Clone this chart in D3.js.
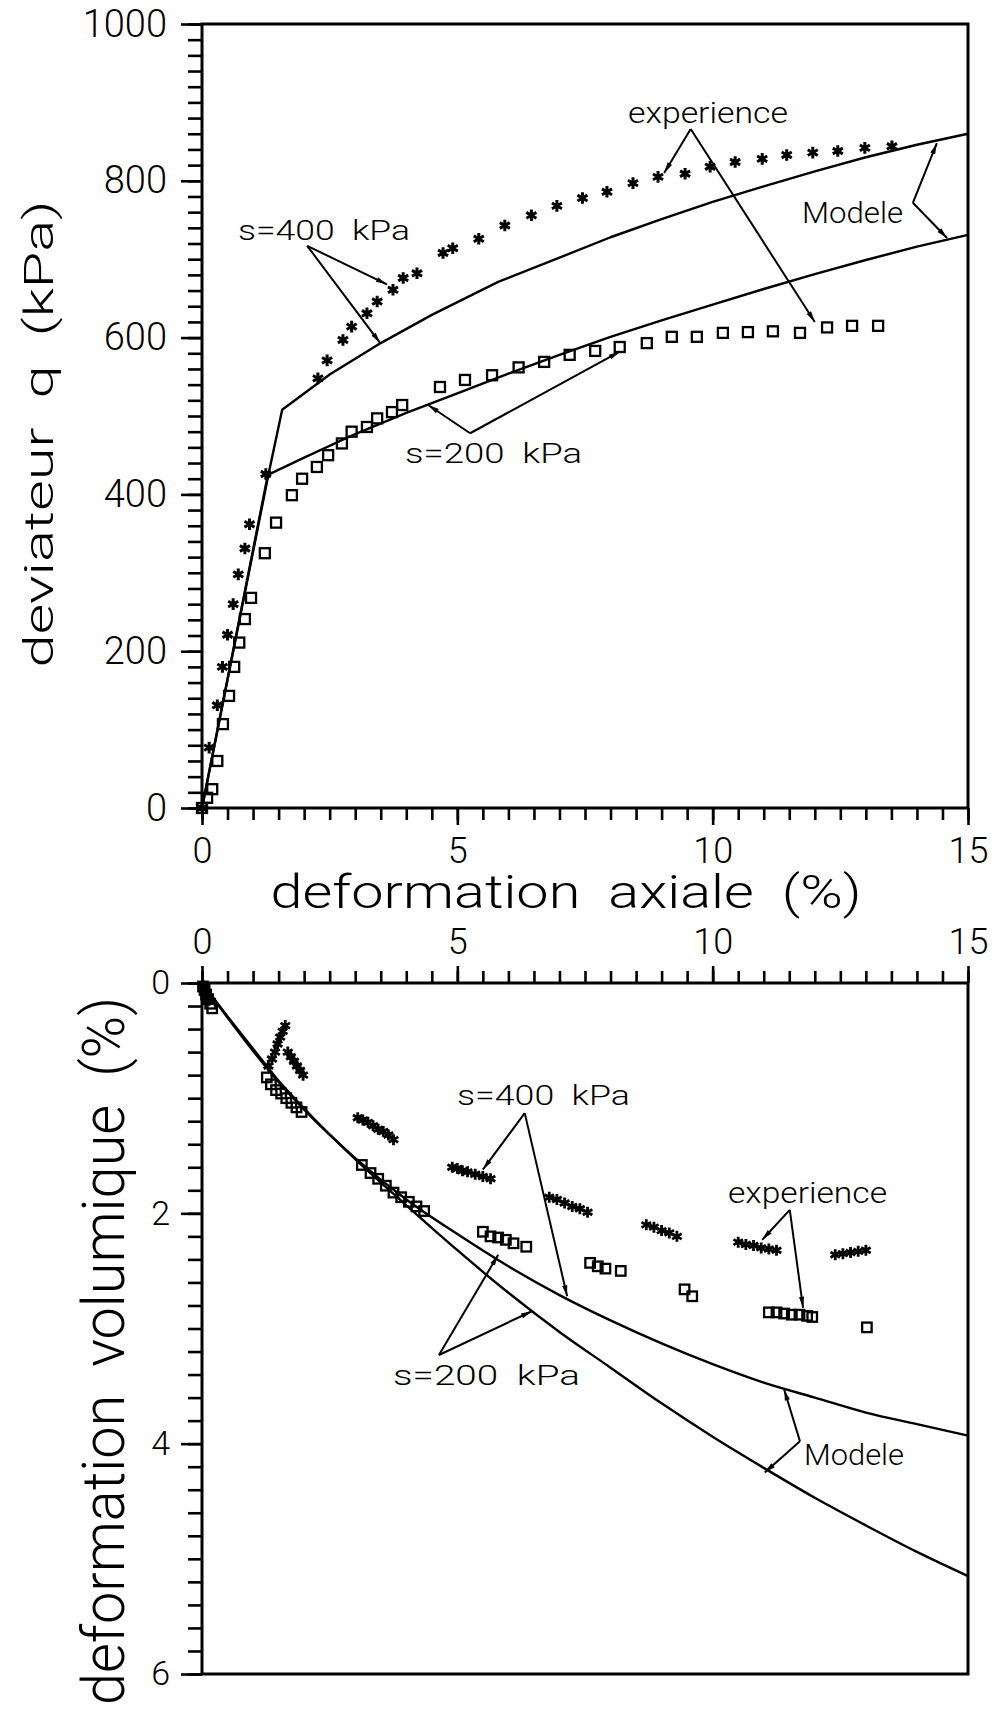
<!DOCTYPE html>
<html><head><meta charset="utf-8">
<script src="https://cdn.jsdelivr.net/npm/d3@7"></script>
<style>body{margin:0;background:#fff}svg{display:block}</style>
</head><body>
<svg id="c" width="997" height="1709"></svg>
<script>
// ---------------- DATA ----------------
const qTicks = [0, 200, 400, 600, 800, 1000];
const epsTicks = [0, 5, 10, 15];
const evTicks = [0, 2, 4, 6];

// Top: deviator q (kPa) vs axial strain (%)
const qModel400 = [[0,0],[1.3,425],[1.57,508],[2.5,553],[3.5,593],[4.5,629],[5.8,671],[7,702],[8,728],[9,751],[10,773],[11,793],[12,812],[13,830],[14,846],[15,860]];
const qModel200 = [[0,0],[1.29,425],[2,447],[3,477],[4,504],[5,529],[6,554],[7,578],[8,601],[9,622],[10,642],[11,662],[12,681],[13,699],[14,716],[15,731]];
const qExp400 = [[0,0],[0.14,77],[0.3,131],[0.4,180],[0.5,221],[0.61,260],[0.71,298],[0.84,331],[0.93,362],[1.25,426],[2.27,548],[2.45,571],[2.76,597],[2.93,614],[3.23,631],[3.43,646],[3.74,661],[3.94,676],[4.21,682],[4.72,708],[4.91,714],[5.42,726],[5.93,743],[6.45,756],[6.95,768],[7.45,778],[7.93,786],[8.44,797],[8.93,805],[9.46,809],[9.95,818],[10.44,824],[10.97,828],[11.45,833],[11.96,836],[12.45,838],[12.98,842],[13.51,844]];
const qExp200 = [[0,0],[0.1,13],[0.2,24],[0.3,60],[0.41,107],[0.53,143],[0.63,180],[0.73,211],[0.84,241],[0.96,268],[1.23,325],[1.45,364],[1.76,399],[1.96,420],[2.25,435],[2.47,450],[2.74,465],[2.93,480],[3.23,486],[3.43,497],[3.72,505],[3.92,514],[4.66,537],[5.15,546],[5.68,552],[6.2,562],[6.7,569],[7.2,578],[7.7,583],[8.18,588],[8.71,593],[9.2,601],[9.69,601],[10.2,606],[10.69,607],[11.18,608],[11.71,606],[12.24,613],[12.73,615],[13.24,615]];

// Bottom: volumetric strain (%) vs axial strain (%)
const vModel400 = [[0,0],[0.5,0.3],[1,0.59],[1.5,0.86],[2,1.1],[3,1.52],[4,1.88],[5,2.18],[6,2.46],[7,2.71],[8,2.93],[9,3.13],[10,3.31],[11,3.47],[12,3.6],[13,3.73],[14,3.83],[15,3.93]];
const vModel200 = [[0,0],[0.5,0.29],[1,0.57],[1.5,0.85],[2,1.09],[3,1.53],[4,1.93],[5,2.32],[6,2.69],[7,3.03],[8,3.34],[9,3.65],[10,3.94],[11,4.21],[12,4.47],[13,4.71],[14,4.94],[15,5.15]];
const vExp400 = [[0.02,0.02],[0.05,0.05],[0.08,0.09],[0.11,0.12],[0.14,0.15],
  [1.3,0.72],[1.37,0.66],[1.43,0.6],[1.48,0.53],[1.53,0.47],[1.58,0.42],[1.63,0.37],
  [1.68,0.6],[1.74,0.64],[1.8,0.68],[1.86,0.72],[1.92,0.76],[1.98,0.8],
  [3.05,1.17],[3.15,1.19],[3.25,1.21],[3.35,1.24],[3.45,1.27],[3.55,1.29],[3.65,1.32],[3.75,1.36],
  [4.9,1.6],[5.0,1.61],[5.1,1.63],[5.2,1.64],[5.35,1.66],[5.5,1.68],[5.65,1.7],
  [6.8,1.86],[6.95,1.88],[7.1,1.91],[7.25,1.94],[7.4,1.96],[7.55,1.99],
  [8.7,2.1],[8.85,2.12],[9.0,2.15],[9.15,2.17],[9.3,2.2],
  [10.5,2.25],[10.65,2.27],[10.8,2.28],[10.95,2.3],[11.1,2.31],[11.25,2.32],
  [12.4,2.36],[12.55,2.35],[12.7,2.34],[12.85,2.33],[13.0,2.32]];
const vExp200 = [[0.02,0.03],[0.05,0.06],[0.08,0.1],[0.12,0.14],[0.16,0.18],[0.2,0.22],
  [1.27,0.82],[1.35,0.88],[1.45,0.93],[1.55,0.96],[1.65,1.0],[1.75,1.04],[1.85,1.08],[1.95,1.12],
  [3.13,1.58],[3.3,1.65],[3.45,1.7],[3.6,1.76],[3.75,1.82],[3.9,1.86],[4.05,1.9],[4.2,1.94],[4.35,1.98],
  [5.5,2.16],[5.65,2.2],[5.8,2.21],[5.95,2.23],[6.1,2.26],[6.35,2.29],
  [7.6,2.43],[7.75,2.46],[7.9,2.48],[8.2,2.5],
  [9.45,2.66],[9.6,2.72],
  [11.1,2.86],[11.25,2.86],[11.4,2.87],[11.55,2.88],[11.7,2.88],[11.85,2.89],[11.95,2.9],
  [13.02,2.99]];

// ---------------- DRAWING ----------------
const FONT = "Roboto, 'Liberation Sans', Arial, Helvetica, sans-serif";
const FW = 300;
const svg = d3.select("#c");
svg.append("rect").attr("width",997).attr("height",1709).attr("fill","#fff");

const x = d3.scaleLinear().domain([0,15]).range([202,968]);
const yq = d3.scaleLinear().domain([0,1000]).range([808,24]);
const yv = d3.scaleLinear().domain([0,6]).range([983,1674]);

const defs = svg.append("defs");
defs.append("marker").attr("id","ah").attr("viewBox","-12 -4 13 8")
  .attr("refX",0).attr("refY",0).attr("markerWidth",13).attr("markerHeight",8)
  .attr("markerUnits","userSpaceOnUse").attr("orient","auto")
  .append("path").attr("d","M-11,-2.6 L0,0 L-11,2.6 Z").attr("fill","#000");

function styleAxis(g, fs){
  g.select(".domain").remove();
  g.selectAll(".tick line").attr("stroke","#000").attr("stroke-width",2.6);
  g.selectAll(".tick text").attr("font-family",FONT).attr("font-weight",FW)
    .attr("font-size",fs).attr("fill","#000");
}

// ---- Top chart axes ----
svg.append("g").attr("transform","translate(202,0)")
  .call(d3.axisLeft(yq).tickValues(d3.range(0,1001,20)).tickSize(14).tickFormat(""))
  .call(g=>styleAxis(g,36));
svg.append("g").attr("transform","translate(202,0)")
  .call(d3.axisLeft(yq).tickValues(qTicks).tickSize(21).tickPadding(14).tickFormat(d3.format("d")))
  .call(g=>styleAxis(g,38));
svg.append("g").attr("transform","translate(0,808)")
  .call(d3.axisBottom(x).tickValues(d3.range(0,15.01,0.5)).tickSize(12).tickFormat(""))
  .call(g=>styleAxis(g,35));
svg.append("g").attr("transform","translate(0,808)")
  .call(d3.axisBottom(x).tickValues(epsTicks).tickSize(17).tickPadding(12).tickFormat(d3.format("d")))
  .call(g=>styleAxis(g,36));
svg.append("rect").attr("x",x(0)).attr("y",yq(1000)).attr("width",x(15)-x(0)).attr("height",yq(0)-yq(1000))
  .attr("fill","none").attr("stroke","#000").attr("stroke-width",3);

// ---- Bottom chart axes ----
svg.append("g").attr("transform","translate(0,983)")
  .call(d3.axisTop(x).tickValues(d3.range(0,15.01,0.5)).tickSize(12).tickFormat(""))
  .call(g=>styleAxis(g,35));
svg.append("g").attr("transform","translate(0,983)")
  .call(d3.axisTop(x).tickValues(epsTicks).tickSize(17).tickPadding(12).tickFormat(d3.format("d")))
  .call(g=>styleAxis(g,36));
svg.append("g").attr("transform","translate(202,0)")
  .call(d3.axisLeft(yv).tickValues(d3.range(0,6.01,0.2)).tickSize(14).tickFormat(""))
  .call(g=>styleAxis(g,32));
svg.append("g").attr("transform","translate(202,0)")
  .call(d3.axisLeft(yv).tickValues(evTicks).tickSize(21).tickPadding(11).tickFormat(d3.format("d")))
  .call(g=>styleAxis(g,34));
svg.append("rect").attr("x",x(0)).attr("y",yv(0)).attr("width",x(15)-x(0)).attr("height",yv(6)-yv(0))
  .attr("fill","none").attr("stroke","#000").attr("stroke-width",3);

// ---- Axis titles ----
function title(txt, cx, cy, fs, len, rot){
  svg.append("text").attr("transform",`translate(${cx},${cy}) rotate(${rot})`)
    .attr("text-anchor","middle").attr("font-family",FONT).attr("font-weight",FW).attr("font-size",fs)
    .attr("textLength",len).attr("lengthAdjust","spacingAndGlyphs")
    .attr("fill","#000").style("white-space","pre").text(txt);
}
title("deviateur  q  (kPa)", 53, 434, 40, 467, -90);
title("deformation  axiale  (%)", 566, 908, 46, 591, 0);
title("deformation  volumique  (%)", 124, 1351, 60, 708, -90);

// ---- Marks ----
const c30 = Math.cos(Math.PI/6);
function starPath(r){
  return `M0,${-r}L0,${r}M${-r*c30},${-r/2}L${r*c30},${r/2}M${-r*c30},${r/2}L${r*c30},${-r/2}`;
}
function stars(data, sy, r, sw){
  svg.append("g").selectAll("path").data(data).join("path")
    .attr("d",starPath(r)).attr("transform",d=>`translate(${x(d[0])},${sy(d[1])})`)
    .attr("stroke","#000").attr("stroke-width",sw).attr("fill","none");
}
function squares(data, sy, s, sw){
  svg.append("g").selectAll("rect").data(data).join("rect")
    .attr("x",d=>x(d[0])-s/2).attr("y",d=>sy(d[1])-s/2).attr("width",s).attr("height",s)
    .attr("stroke","#000").attr("stroke-width",sw).attr("fill","none");
}
function curve(data, sy, c, sw){
  svg.append("path").datum(data)
    .attr("d",d3.line().x(d=>x(d[0])).y(d=>sy(d[1])).curve(c))
    .attr("fill","none").attr("stroke","#000").attr("stroke-width",sw).attr("stroke-linejoin","round");
}

curve(qModel400, yq, d3.curveLinear, 2.4);
curve(qModel200, yq, d3.curveLinear, 2.4);
squares(qExp200, yq, 10, 2.3);
stars(qExp400, yq, 5.8, 3);

curve(vModel400, yv, d3.curveMonotoneX, 2.4);
curve(vModel200, yv, d3.curveMonotoneX, 2.4);
squares(vExp200, yv, 9.5, 2.3);
stars(vExp400, yv, 5.5, 2.8);

// ---- Annotations ----
function label(txt, x0, x1, base, fs){
  svg.append("text").attr("x",x0).attr("y",base).attr("font-family",FONT).attr("font-weight",FW)
    .attr("font-size",fs)
    .attr("textLength",x1-x0).attr("lengthAdjust","spacingAndGlyphs")
    .attr("fill","#000").style("white-space","pre").text(txt);
}
function arrows(sy, apex, targets){
  targets.forEach(t=>{
    svg.append("line").attr("x1",x(apex[0])).attr("y1",sy(apex[1]))
      .attr("x2",x(t[0])).attr("y2",sy(t[1]))
      .attr("stroke","#000").attr("stroke-width",2).attr("marker-end","url(#ah)");
  });
}
// top chart
label("s=400  kPa", 238, 410, 240, 28);
arrows(yq, [2.06,717], [[3.62,668],[3.49,593]]);
label("experience", 628, 788, 123, 29);
arrows(yq, [9.57,866], [[9.05,810],[12.0,620]]);
label("Modele", 802, 903, 223, 29);
arrows(yq, [13.92,772], [[14.39,848],[14.59,727]]);
label("s=200  kPa", 405, 582, 463, 28);
arrows(yq, [5.25,478], [[4.43,514],[8.18,582]]);
// bottom chart
label("s=400  kPa", 457, 630, 1105, 28);
arrows(yv, [6.32,1.13], [[5.5,1.62],[7.15,2.72]]);
label("experience", 728, 887, 1203, 29);
arrows(yv, [11.51,1.97], [[10.97,2.23],[11.77,2.82]]);
label("s=200  kPa", 393, 580, 1385, 28);
arrows(yv, [4.64,3.23], [[5.8,2.36],[6.46,2.85]]);
label("Modele", 804, 904, 1465, 29);
arrows(yv, [11.71,3.98], [[11.4,3.53],[11.02,4.25]]);
</script>
</body></html>
